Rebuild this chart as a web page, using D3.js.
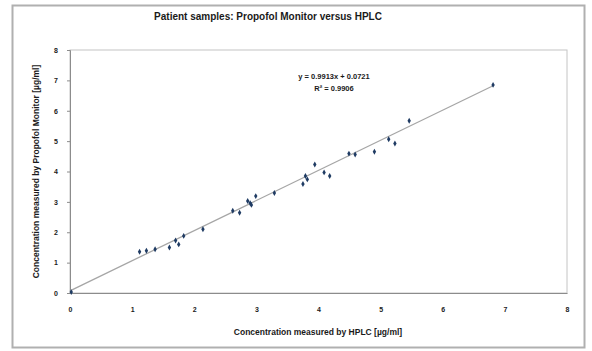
<!DOCTYPE html>
<html>
<head>
<meta charset="utf-8">
<script src="https://cdnjs.cloudflare.com/ajax/libs/d3/7.8.5/d3.min.js"></script>
<style>
  body { margin: 0; background: #fff; }
  svg text { font-family: "Liberation Sans", Arial, sans-serif; fill: #1a1a1a; }
</style>
</head>
<body>
<div id="chart"></div>
<script>
// HPLC (x) vs Propofol Monitor (y), ug/ml
var hplc = [0.02, 1.12, 1.23, 1.37, 1.60, 1.70, 1.75, 1.83, 2.14, 2.62, 2.73, 2.86, 2.90, 2.92, 2.99,
            3.29, 3.75, 3.79, 3.82, 3.94, 4.09, 4.18, 4.49, 4.59, 4.90, 5.13, 5.23, 5.46, 6.81];
var monitor = [0.03, 1.36, 1.39, 1.44, 1.50, 1.73, 1.60, 1.88, 2.10, 2.71, 2.64, 3.03, 2.96, 2.90, 3.19,
               3.29, 3.59, 3.85, 3.74, 4.23, 3.97, 3.85, 4.59, 4.56, 4.65, 5.06, 4.92, 5.67, 6.85];
var xTicks = [0, 1, 2, 3, 4, 5, 6, 7, 8];
var yTicks = [0, 1, 2, 3, 4, 5, 6, 7, 8];
var slope = 0.9913, intercept = 0.0721;
var eqLabels = ["y = 0.9913x + 0.0721", "R\u00b2 = 0.9906"];

var W = 592, H = 351;
var margin = {top: 50, left: 70, bottom: 58, right: 25};

var svg = d3.select("#chart").append("svg").attr("width", W).attr("height", H);

// outer chart frame
svg.append("rect").attr("x", 12.5).attr("y", 5.5).attr("width", 572).attr("height", 342)
   .attr("fill", "#fff").attr("stroke", "#b0b0b0").attr("stroke-width", 2);

var xScale = d3.scaleLinear().domain([0, 8]).range([margin.left, W - margin.right]);
var yScale = d3.scaleLinear().domain([0, 8]).range([H - margin.bottom, margin.top]);

// plot area border
svg.append("rect")
   .attr("x", xScale(0)).attr("y", yScale(8))
   .attr("width", xScale(8) - xScale(0)).attr("height", yScale(0) - yScale(8))
   .attr("fill", "none").attr("stroke", "#c4c4c4").attr("stroke-width", 1);

var xAxis = svg.append("g").attr("transform", "translate(0," + yScale(0) + ")")
   .call(d3.axisBottom(xScale).tickValues(xTicks).tickSize(0).tickPadding(14).tickFormat(d3.format("d")));
var yAxis = svg.append("g").attr("transform", "translate(" + xScale(0) + ",0)")
   .call(d3.axisLeft(yScale).tickValues(yTicks).tickSize(3).tickPadding(9).tickFormat(d3.format("d")));

[xAxis, yAxis].forEach(function(g){
    g.select(".domain").attr("stroke", "#8c8c8c");
    g.selectAll(".tick line").attr("stroke", "#8c8c8c");
    g.selectAll("text").attr("font-size", 7).attr("font-weight", "bold").attr("fill", "#1a1a1a");
});

// linear trendline
var xMax = d3.max(hplc);
svg.append("line")
   .attr("x1", xScale(0)).attr("y1", yScale(intercept))
   .attr("x2", xScale(xMax)).attr("y2", yScale(slope * xMax + intercept))
   .attr("stroke", "#a6a6a6").attr("stroke-width", 1.3);

// points
var pts = hplc.map(function(d, i){ return [d, monitor[i]]; });
svg.append("g").selectAll("path").data(pts).enter().append("path")
   .attr("d", d3.symbol().type(d3.symbolDiamond).size(10))
   .attr("transform", function(d){ return "translate(" + xScale(d[0]) + "," + yScale(d[1]) + ")"; })
   .attr("fill", "#1f3b63");

// equation text
svg.selectAll(".eq").data(eqLabels).enter().append("text")
   .attr("class", "eq")
   .attr("x", 334).attr("y", function(d, i){ return 79 + i * 12; })
   .attr("text-anchor", "middle").attr("font-size", 7.5).attr("font-weight", "bold")
   .text(function(d){ return d; });

// titles
svg.append("text").attr("x", 268).attr("y", 20).attr("text-anchor", "middle")
   .attr("font-size", 10).attr("font-weight", "bold")
   .text("Patient samples: Propofol Monitor versus HPLC");

svg.append("text").attr("x", 318).attr("y", 335).attr("text-anchor", "middle")
   .attr("font-size", 8.5).attr("font-weight", "bold")
   .text("Concentration measured by HPLC [\u00b5g/ml]");

svg.append("text")
   .attr("transform", "translate(39," + ((yScale(0) + yScale(8)) / 2) + ") rotate(-90)")
   .attr("text-anchor", "middle").attr("font-size", 8.5).attr("font-weight", "bold")
   .text("Concentration measured by Propofol Monitor [\u00b5g/ml]");
</script>
</body>
</html>
